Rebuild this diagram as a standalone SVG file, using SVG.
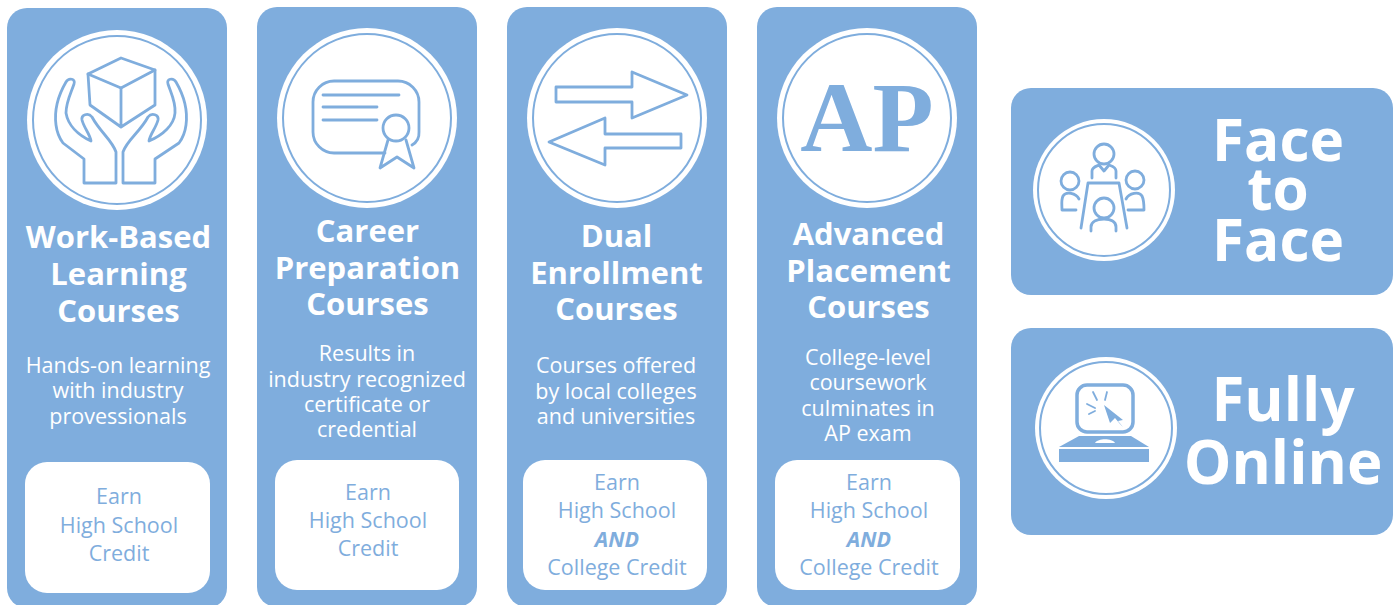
<svg xmlns="http://www.w3.org/2000/svg" width="1396" height="605" viewBox="0 0 1396 605">
<style>
text{font-family:"Open Sans","Noto Sans","Liberation Sans",sans-serif;text-anchor:middle}
.card{fill:#7faddd}
.disc{fill:#fff}
.ring{fill:none;stroke:#7faddd;stroke-width:2}
.ic{fill:none;stroke:#7faddd;stroke-width:2.800;stroke-linejoin:round;stroke-linecap:round}
.solid{fill:#7faddd;stroke:none}
.t{font-weight:700;font-size:31px;fill:#fff}
.d{font-size:21.5px;fill:#fff}
.box{fill:#fff}
.c{font-size:21.500px;fill:#7faddd}
.b{font-weight:700;fill:#fff;font-size:58.500px}
</style>
<rect width="1396" height="605" fill="#fff"/>
<g id="work-based">
<rect class="card" x="7" y="8" width="220" height="600" rx="20"/>
<circle class="disc" cx="117" cy="120" r="90"/><circle class="ring" cx="117" cy="120" r="84"/>
<g class="ic">
<path d="M121 58L155 70L121 88L88 74Z"/><path d="M88 74L90 105L121 127L155 105L155 70M121 88V127"/>
<path d="M74 84C76 79 69 77 66 82C59 94 54 110 56 125C57 133 60 139 63 143L84 159V183H116V152C112 140 100 132 92 117C88 112 81 115 82 120C84 128 90 134 91 141C78 135 68 125 66 113C66 102 71 93 74 84Z"/>
<path d="M168 84C166 79 173 77 176 82C183 94 188 110 186 125C185 133 182 139 179 143L155 159V183H123V152C127 140 140 132 148 117C152 112 159 115 158 120C156 128 150 134 149 141C163 135 174 125 175 113C176 102 171 93 168 84Z"/>
</g>
<text class="t" x="118.500" y="248">Work-Based</text>
<text class="t" x="118.500" y="285">Learning</text>
<text class="t" x="118.500" y="322">Courses</text>
<text class="d" x="118" y="373">Hands-on learning</text>
<text class="d" x="118" y="398">with industry</text>
<text class="d" x="118" y="424">provessionals</text>
<rect class="box" x="25" y="462" width="185" height="131" rx="22"/>
<text class="c" x="119" y="504">Earn</text>
<text class="c" x="119" y="533">High School</text>
<text class="c" x="119" y="561">Credit</text>
</g>
<g id="career">
<rect class="card" x="257" y="7" width="220" height="600" rx="20"/>
<circle class="disc" cx="367" cy="118" r="90"/><circle class="ring" cx="367" cy="118" r="84"/>
<g class="ic">
<path d="M385 153H334A21 21 0 0 1 313 132V102A21 21 0 0 1 334 81H398A21 21 0 0 1 419 102V132A14 14 0 0 1 412 145"/>
<path d="M323 95H399M323 107H377M323 120H377"/>
<circle cx="396" cy="128" r="13"/>
<path d="M388 140L380 168L397 157L414 168L406 140"/>
</g>
<text class="t" x="367.500" y="242">Career</text>
<text class="t" x="367.500" y="279">Preparation</text>
<text class="t" x="367.500" y="315">Courses</text>
<text class="d" x="367" y="361">Results in</text>
<text class="d" x="367" y="387">industry recognized</text>
<text class="d" x="367" y="412">certificate or</text>
<text class="d" x="367" y="437">credential</text>
<rect class="box" x="275" y="460" width="184" height="130" rx="22"/>
<text class="c" x="368" y="500">Earn</text>
<text class="c" x="368" y="528">High School</text>
<text class="c" x="368" y="556">Credit</text>
</g>
<g id="dual">
<rect class="card" x="507" y="7" width="220" height="600" rx="20"/>
<circle class="disc" cx="617" cy="118" r="90"/><circle class="ring" cx="617" cy="118" r="84"/>
<g class="ic">
<path d="M556 87H632V72L687 95L632 118V102H556Z"/>
<path d="M681 134H605V118L549 142L605 165V148H681Z"/>
</g>
<text class="t" x="616.500" y="247">Dual</text>
<text class="t" x="616.500" y="284">Enrollment</text>
<text class="t" x="616.500" y="320">Courses</text>
<text class="d" x="616" y="373">Courses offered</text>
<text class="d" x="616" y="399">by local colleges</text>
<text class="d" x="616" y="424">and universities</text>
<rect class="box" x="523" y="460" width="184" height="130" rx="22"/>
<text class="c" x="617" y="490">Earn</text>
<text class="c" x="617" y="518">High School</text>
<text class="c" x="617" y="547" font-weight="700" font-style="italic">AND</text>
<text class="c" x="617" y="575">College Credit</text>
</g>
<g id="ap">
<rect class="card" x="757" y="7" width="220" height="600" rx="20"/>
<circle class="disc" cx="867" cy="118" r="90"/><circle class="ring" cx="867" cy="118" r="84"/>
<text x="867" y="151" style="font-family:'Liberation Serif',serif;font-weight:700;font-size:100px;fill:#7faddd">AP</text>
<text class="t" x="868.500" y="245">Advanced</text>
<text class="t" x="868.500" y="282">Placement</text>
<text class="t" x="868.500" y="318">Courses</text>
<text class="d" x="868" y="365">College-level</text>
<text class="d" x="868" y="390">coursework</text>
<text class="d" x="868" y="416">culminates in</text>
<text class="d" x="868" y="441">AP exam</text>
<rect class="box" x="775" y="460" width="185" height="130" rx="22"/>
<text class="c" x="869" y="490">Earn</text>
<text class="c" x="869" y="518">High School</text>
<text class="c" x="869" y="547" font-weight="700" font-style="italic">AND</text>
<text class="c" x="869" y="575">College Credit</text>
</g>
<g id="face-to-face">
<rect class="card" x="1011" y="88" width="382" height="207" rx="20"/>
<circle class="disc" cx="1104" cy="190" r="71"/><circle class="ring" cx="1104" cy="190" r="66"/>
<g class="ic">
<circle cx="1104" cy="154" r="10"/>
<path d="M1092 178V171C1092 167 1097 166 1099 165L1104 171L1109 165C1112 166 1116 167 1116 171V178"/>
<circle cx="1070" cy="181" r="9"/>
<path d="M1079 199C1076 193 1066 191 1063 196C1061 200 1062 206 1062 210H1076"/>
<circle cx="1135" cy="180" r="9"/>
<path d="M1126 199C1129 193 1139 191 1142 196C1144 200 1144 206 1144 210H1128"/>
<path d="M1081 228L1088 183H1119L1127 228"/>
<circle cx="1104" cy="208" r="10"/>
<path d="M1091 231V227C1091 221 1098 219 1104 219C1110 219 1116 221 1116 227V231"/>
</g>
<text class="b" x="1278" y="161">Face</text>
<text class="b" x="1278" y="210">to</text>
<text class="b" x="1278" y="261">Face</text>
</g>
<g id="fully-online">
<rect class="card" x="1011" y="328" width="382" height="207" rx="20"/>
<circle class="disc" cx="1106" cy="428" r="71"/><circle class="ring" cx="1106" cy="428" r="66"/>
<rect x="1077" y="385" width="56" height="47" rx="10" fill="none" stroke="#7faddd" stroke-width="3.500"/>
<path class="solid" d="M1104 405L1123 420L1118 421L1123 427L1120 424L1115 418L1110 423Z"/>
<path class="ic" style="stroke-width:1.800" d="M1093 392L1097 400M1107 392L1105 400M1087 404L1095 408M1089 414L1095 411"/>
<path class="solid" d="M1059 447L1079 436H1131L1149 447Z"/>
<path class="solid" d="M1059 449H1149V462H1059Z"/>
<path fill="#fff" d="M1095 443C1098 438 1112 438 1115 443Z"/>
<text class="b" x="1283" y="421" style="font-size:60px">Fully</text>
<text class="b" x="1283" y="484" style="font-size:60px">Online</text>
</g>
<g id="connectors"/>
</svg>
